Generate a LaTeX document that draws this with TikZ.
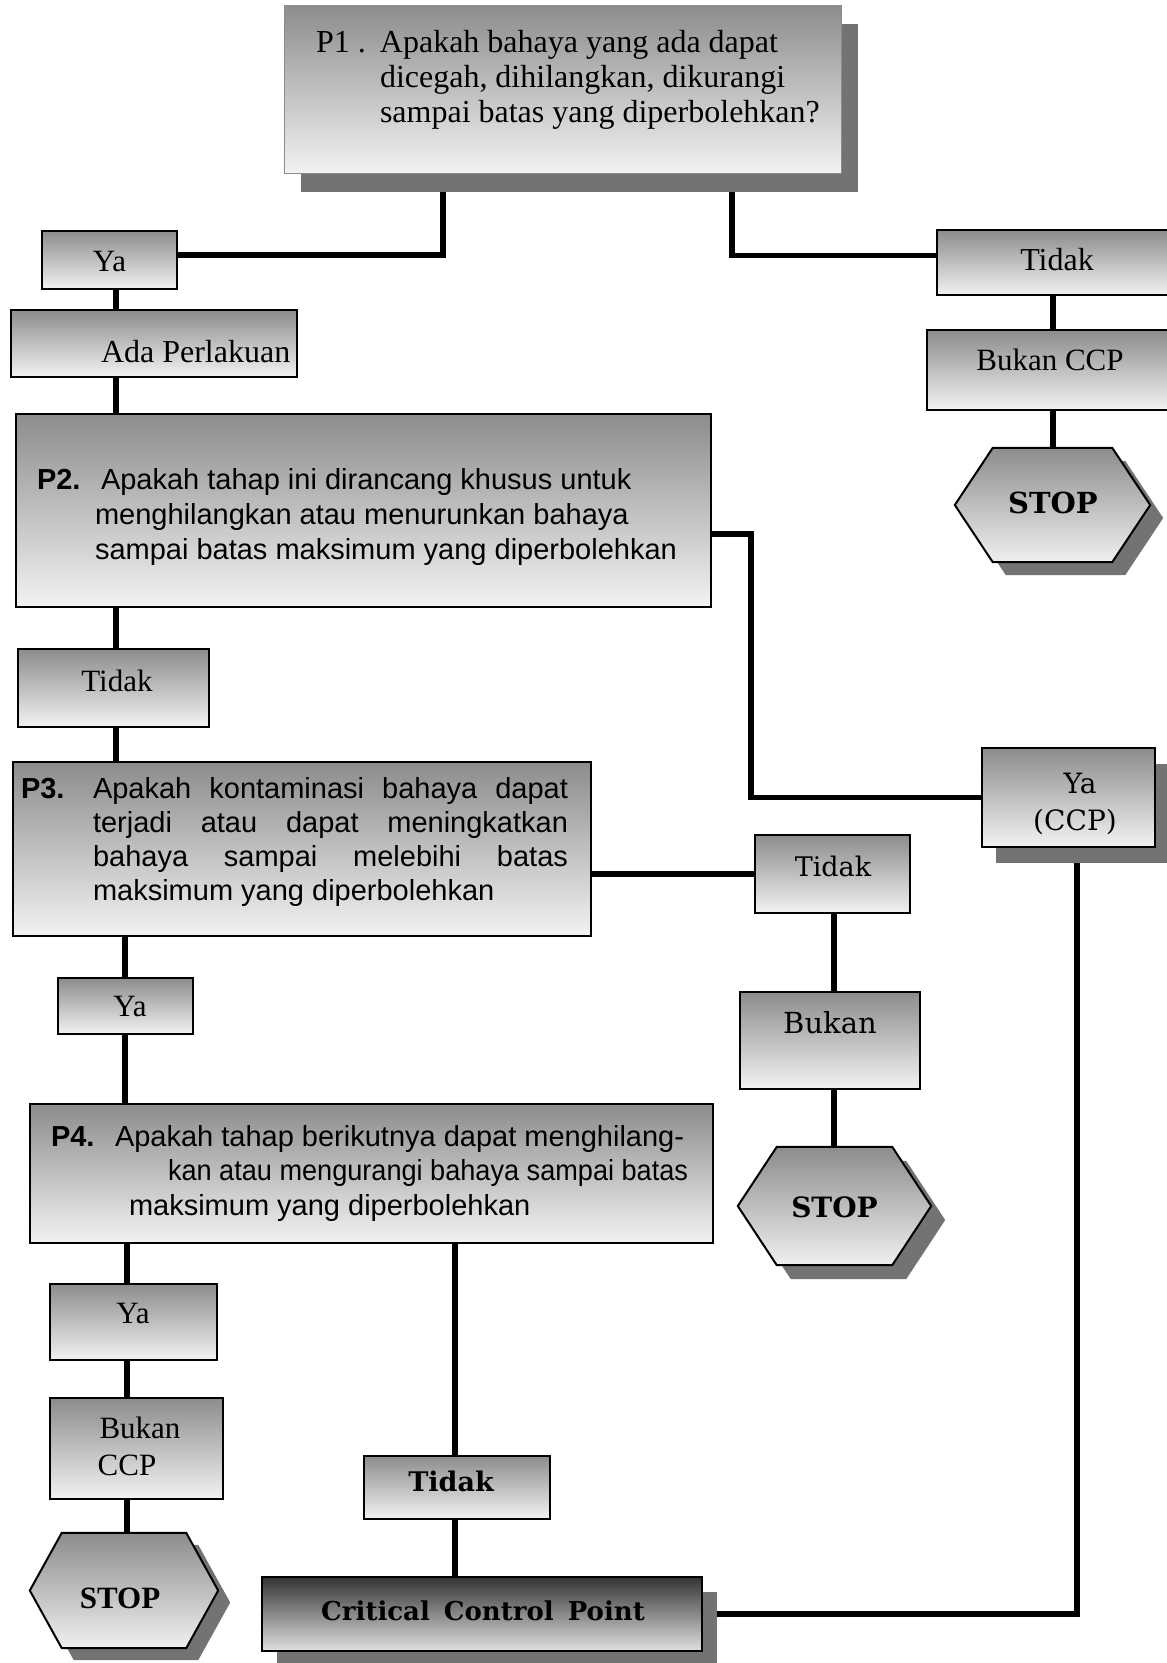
\documentclass[tikz,border=0pt]{standalone}
\usepackage{fontspec}
\usepackage{graphicx}
\setmainfont{Liberation Serif}
\newfontfamily\sansf{Liberation Sans}
\newfontfamily\dejas{DejaVu Serif}
\usetikzlibrary{shadows}
\pgfdeclarelayer{bg}
\pgfdeclarelayer{mid}
\pgfsetlayers{bg,mid,main}
% text placed with its centre #1 right of the node centre, baseline #2 above it
\newcommand\cpos[3]{\raisebox{#2pt}[0pt][0pt]{\makebox[0pt]{\hspace*{#1pt}\hspace*{#1pt}#3}}}
% text placed with its left edge #1 right of the node centre, baseline #2 above it
\newcommand\lpos[3]{\raisebox{#2pt}[0pt][0pt]{\makebox[0pt][l]{\hspace*{#1pt}#3}}}
\newcommand\fs[2]{\fontsize{#1}{#2}\selectfont}
\begin{document}
\begin{tikzpicture}[x=1pt,y=-1pt,
  box/.style={rectangle, draw=black, line width=2pt, inner sep=0pt,
              top color=black!45, bottom color=black!5},
  darkbox/.style={top color=black!80, bottom color=black!12},
  ghost/.style={rectangle, inner sep=0pt},
  hexfill/.style={draw=black, line width=2pt, top color=black!45, bottom color=black!6},
  hexshadow/.style={fill=black!55},
  conn/.style={line width=5.5pt, black}]
\useasboundingbox (0,0) rectangle (1167,1663);
\begin{pgfonlayer}{bg}
\fill[white] (0,0) rectangle (1167,1663);
\end{pgfonlayer}

% ---------- coordinates for connector columns ----------
\coordinate (colP1L) at (443,0);
\coordinate (colP1R) at (732,0);
\coordinate (colTR) at (1053,0);
\coordinate (colL1) at (116,0);
\coordinate (colL2) at (125,0);
\coordinate (colL3) at (127,0);
\coordinate (colM) at (834,0);
\coordinate (colP4R) at (455,0);
\coordinate (colR) at (1077,0);
\coordinate (bendA) at (751,0);

% ---------- nodes ----------
\node[box, draw=black!45, line width=1pt, minimum width=557pt, minimum height=168pt,
      drop shadow={shadow xshift=17pt, shadow yshift=-19pt, fill=black!55, opacity=1},
      font=\fs{32}{35}] (p1) at (562.5,89)
  {\lpos{-246.5}{37}{\parbox[t]{560pt}{\makebox[64pt][l]{P1 .}Apakah bahaya yang ada dapat\\
   \hspace*{64pt}dicegah, dihilangkan, dikurangi\\
   \hspace*{64pt}sampai batas yang diperbolehkan?}}};

\node[box, minimum width=135pt, minimum height=58pt, font=\fs{31}{35}] (ya1) at (109.5,260)
  {\cpos{0}{-11}{Ya}};
\node[box, minimum width=286pt, minimum height=67pt, font=\fs{32}{35}] (ada) at (154,343.5)
  {\lpos{-53}{-18.5}{Ada Perlakuan}};

\node[box, minimum width=695pt, minimum height=193pt, font=\sansf\fs{29}{35}] (p2) at (363.5,510.5)
  {\lpos{-326.5}{21.5}{\parbox[t]{680pt}{\makebox[64pt][l]{\bfseries P2.}Apakah tahap ini dirancang khusus untuk\\
   \hspace*{58pt}menghilangkan atau menurunkan bahaya\\
   \hspace*{58pt}sampai batas maksimum yang diperbolehkan}}};

\node[box, minimum width=191pt, minimum height=78pt, font=\fs{31}{35}] (tidak1) at (113.5,688)
  {\cpos{3.5}{-3}{Tidak}};

\node[box, minimum width=578pt, minimum height=174pt, font=\sansf\fs{29}{34.3}] (p3) at (302,849)
  {\lpos{-281}{51}{\parbox[t]{620pt}{\makebox[72pt][l]{\bfseries P3.}\makebox[475pt][s]{Apakah kontaminasi bahaya dapat}\\
   \hspace*{72pt}\makebox[475pt][s]{terjadi atau dapat meningkatkan}\\
   \hspace*{72pt}\makebox[475pt][s]{bahaya sampai melebihi batas}\\
   \hspace*{72pt}maksimum yang diperbolehkan}}};

\node[box, minimum width=155pt, minimum height=78pt, font=\dejas\fs{27}{32}] (tidak2) at (832.5,874)
  {\cpos{0.5}{-2}{Tidak}};
\node[box, minimum width=180pt, minimum height=97pt, font=\dejas\fs{29}{32}] (bukan) at (830,1040.5)
  {\cpos{0}{7.5}{Bukan}};
\node[ghost, minimum width=193pt, minimum height=118pt, font=\dejas\bfseries\fs{28}{32}] (stopM) at (834.5,1206)
  {\cpos{0}{-11}{STOP}};

\node[box, minimum width=173pt, minimum height=99pt,
      drop shadow={shadow xshift=14pt, shadow yshift=-16pt, fill=black!55, opacity=1},
      font=\dejas\fs{28}{32}] (yaccp) at (1068.5,797.5)
  {\cpos{11.5}{4.5}{Ya}\cpos{6.5}{-32.5}{(CCP)}};

\node[box, minimum width=135pt, minimum height=56pt, font=\fs{31}{35}] (ya2) at (125.5,1006)
  {\cpos{4.5}{-10}{Ya}};

\node[box, minimum width=683pt, minimum height=139pt, font=\sansf\fs{29}{34.5}] (p4) at (371.5,1173.5)
  {\lpos{-320.5}{27.5}{\parbox[t]{680pt}{\makebox[64pt][l]{\bfseries P4.}Apakah tahap berikutnya dapat menghilang-\\
   \hspace*{117pt}\scalebox{0.935}[1]{kan atau mengurangi bahaya sampai batas}\\
   \hspace*{78pt}maksimum yang diperbolehkan}}};

\node[box, minimum width=167pt, minimum height=76pt, font=\fs{31}{35}] (ya3) at (133.5,1322)
  {\cpos{-0.5}{-1}{Ya}};
\node[box, minimum width=173pt, minimum height=101pt, font=\fs{31}{35}] (bukanccp2) at (136.5,1448.5)
  {\cpos{3.5}{10.5}{Bukan}\cpos{-9.5}{-26.5}{CCP}};
\node[ghost, minimum width=188pt, minimum height=115pt, font=\bfseries\fs{31}{34}] (stopL) at (124,1590.5)
  {\cpos{-4}{-17.5}{STOP}};

\node[box, minimum width=186pt, minimum height=63pt, font=\dejas\bfseries\fs{27}{32}] (tidak3) at (457,1487.5)
  {\cpos{-6}{-3.5}{Tidak}};
\node[box, darkbox, minimum width=440pt, minimum height=74pt,
      drop shadow={shadow xshift=15pt, shadow yshift=-15pt, fill=black!55, opacity=1},
      font=\dejas\bfseries\fs{26}{30}] (ccp) at (482,1614)
  {\cpos{1}{-6}{Critical\hspace{14pt}Control\hspace{14pt}Point}};

\node[box, minimum width=238pt, minimum height=65pt, font=\fs{32}{35}] (tidakTR) at (1056,262.5)
  {\cpos{1}{-7.5}{Tidak}};
\node[box, minimum width=248pt, minimum height=80pt, font=\fs{31}{35}] (bukanTR) at (1051,370)
  {\cpos{-1}{0}{Bukan CCP}};
\node[ghost, minimum width=195pt, minimum height=114pt, font=\dejas\bfseries\fs{29}{32}] (stopTR) at (1052.5,505)
  {\cpos{0.5}{-8}{STOP}};

% ---------- hexagons (STOP) ----------
\begin{pgfonlayer}{mid}
\foreach \n/\d/\s in {stopTR/38/13, stopM/39/14, stopL/32/12}{
  \fill[hexshadow] ([shift={(\s,\s)}]\n.west) -- ([shift={(\d+\s,\s)}]\n.north west)
     -- ([shift={(-\d+\s,\s)}]\n.north east) -- ([shift={(\s,\s)}]\n.east)
     -- ([shift={(-\d+\s,\s)}]\n.south east) -- ([shift={(\d+\s,\s)}]\n.south west) -- cycle;
  \path[hexfill] (\n.west) -- ([xshift=\d pt]\n.north west) -- ([xshift=-\d pt]\n.north east)
     -- (\n.east) -- ([xshift=-\d pt]\n.south east) -- ([xshift=\d pt]\n.south west) -- cycle;
}
\end{pgfonlayer}

% ---------- connectors ----------
\begin{pgfonlayer}{bg}
\draw[conn] (p1.south -| colP1L) |- ([yshift=5pt]ya1.east);
\draw[conn] (p1.south -| colP1R) |- ([yshift=7pt]tidakTR.west);
\draw[conn] (tidakTR.south -| colTR) -- (bukanTR.north -| colTR);
\draw[conn] (bukanTR.south -| colTR) -- (stopTR.north -| colTR);
\draw[conn] (ya1.south -| colL1) -- (ada.north -| colL1);
\draw[conn] (ada.south -| colL1) -- (p2.north -| colL1);
\draw[conn] (p2.south -| colL1) -- (tidak1.north -| colL1);
\draw[conn] (tidak1.south -| colL1) -- (p3.north -| colL1);
\coordinate (p2out) at ([yshift=-23.5pt]p2.east);
\draw[conn] (p2out) -- (p2out -| bendA) |- (yaccp.west);
\draw[conn] (tidak2.west -| p3.east) -- (tidak2.west);
\draw[conn] (tidak2.south -| colM) -- (bukan.north -| colM);
\draw[conn] (bukan.south -| colM) -- (stopM.north -| colM);
\draw[conn] (p3.south -| colL2) -- (ya2.north -| colL2);
\draw[conn] (ya2.south -| colL2) -- (p4.north -| colL2);
\draw[conn] (p4.south -| colL3) -- (ya3.north -| colL3);
\draw[conn] (ya3.south -| colL3) -- (bukanccp2.north -| colL3);
\draw[conn] (bukanccp2.south -| colL3) -- (stopL.north -| colL3);
\draw[conn] (p4.south -| colP4R) -- (tidak3.north -| colP4R);
\draw[conn] (tidak3.south -| colP4R) -- (ccp.north -| colP4R);
\draw[conn] (ccp.east) -| (yaccp.south -| colR);
\end{pgfonlayer}
\end{tikzpicture}
\end{document}
